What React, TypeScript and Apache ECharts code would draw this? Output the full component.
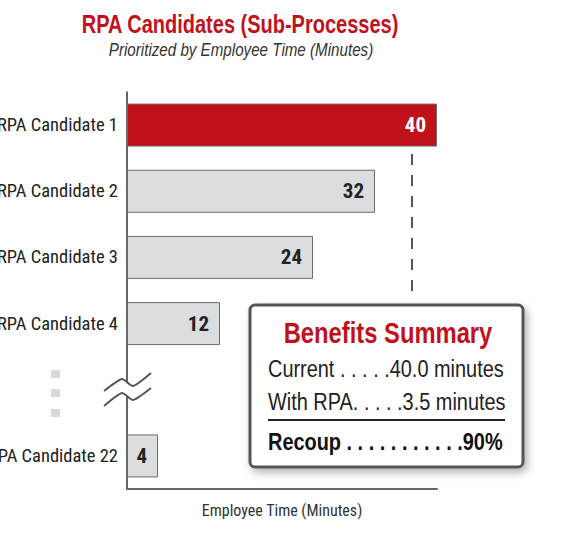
import React, { useEffect, useRef } from "react";
import * as echarts from "echarts";

const categories = [
  "RPA Candidate 1",
  "RPA Candidate 2",
  "RPA Candidate 3",
  "RPA Candidate 4",
  "",
  "RPA Candidate 22",
];
const minutes: (number | null)[] = [40, 32, 24, 12, null, 4];
const highlighted = [true, false, false, false, false, false];

const titleText = "RPA Candidates (Sub-Processes)";
const subtitleText = "Prioritized by Employee Time (Minutes)";
const axisName = "Employee Time (Minutes)";
const summaryTitle = "Benefits Summary";
const summaryLines = ["Current . . . . .40.0 minutes", "With RPA. . . . .3.5 minutes"];
const summaryTotal = "Recoup . . . . . . . . . . .90%";

const COND = "'Roboto Condensed', 'Liberation Sans Narrow', 'DejaVu Sans Condensed', sans-serif";
const SANS = "'Liberation Sans', Arial, sans-serif";
const RED = "#C1121C";
const GRAY = "#DCDDDF";
const NARROW = 0.82;

export default function App() {
  const ref = useRef<HTMLDivElement>(null);
  useEffect(() => {
    if (!ref.current) return;
    const chart = echarts.init(ref.current, null, { renderer: "svg" });
    const data = minutes.map((v, i) => ({
      value: v,
      itemStyle: { color: highlighted[i] ? RED : GRAY },
      label: { color: highlighted[i] ? "#fff" : "#222" },
    }));
    const narrowText = (
      text: string,
      x: number,
      y: number,
      size: number,
      opts: { bold?: boolean; italic?: boolean; fill?: string; align?: string; sx?: number } = {}
    ) => ({
      type: "text",
      z: 101,
      x,
      y,
      scaleX: opts.sx ?? NARROW,
      style: {
        text,
        fontFamily: SANS,
        fontSize: size,
        fontWeight: opts.bold ? "bold" : "normal",
        fontStyle: opts.italic ? "italic" : "normal",
        fill: opts.fill ?? "#222",
        align: opts.align ?? "left",
        verticalAlign: "middle",
      },
    });
    chart.setOption({
      animation: false,
      grid: { left: 127, right: 135, top: 92, bottom: 46, outerBoundsMode: "none", containLabel: false },
      xAxis: {
        type: "value",
        min: 0,
        max: 40,
        splitLine: { show: false },
        axisTick: { show: false },
        axisLabel: { show: false },
        axisLine: { show: true, lineStyle: { color: "#666", width: 2 } },
        name: axisName,
        nameLocation: "middle",
        nameGap: 13,
        nameTextStyle: { fontFamily: COND, fontSize: 16, color: "#333" },
      },
      yAxis: {
        type: "category",
        inverse: true,
        data: categories,
        axisTick: { show: false },
        axisLine: { show: true, lineStyle: { color: "#333", width: 1.5 } },
        axisLabel: { fontFamily: COND, fontSize: 18.5, color: "#222", margin: 9 },
      },
      series: [
        {
          type: "bar",
          data,
          barWidth: 43,
          itemStyle: { borderColor: "#6b6b6b", borderWidth: 1 },
          label: {
            show: true,
            position: "insideRight",
            distance: 11,
            fontFamily: COND,
            fontSize: 21,
            fontWeight: "bold",
          },
        },
      ],
      graphic: [
        narrowText(titleText, 240, 25, 25, { bold: true, fill: RED, align: "center", sx: 0.8 }),
        narrowText(subtitleText, 241, 50, 18.5, { italic: true, fill: "#333", align: "center" }),
        // connector from top bar to summary box
        {
          type: "line",
          z: 100,
          shape: { x1: 412, y1: 154, x2: 412, y2: 299 },
          style: { stroke: "#555", lineWidth: 2, lineDash: [11, 10] },
        },
        // ellipsis squares for omitted candidates
        { type: "rect", z: 100, shape: { x: 51, y: 370, width: 9, height: 8 }, style: { fill: "#d9d9d9" } },
        { type: "rect", z: 100, shape: { x: 51, y: 389, width: 9, height: 8 }, style: { fill: "#d9d9d9" } },
        { type: "rect", z: 100, shape: { x: 51, y: 409, width: 9, height: 8 }, style: { fill: "#d9d9d9" } },
        // axis break
        {
          type: "polygon",
          z: 100,
          shape: {
            points: [
              [104, 392], [122, 380], [133, 387], [151, 374],
              [151, 388], [133, 400], [122, 393], [104, 406],
            ],
          },
          style: { fill: "#fff" },
        },
        {
          type: "polyline",
          z: 101,
          shape: { points: [[104, 391], [122, 379], [133, 386], [151, 373]], smooth: 0.2 },
          style: { stroke: "#555", lineWidth: 2, fill: null },
        },
        {
          type: "polyline",
          z: 101,
          shape: { points: [[104, 406], [122, 393], [133, 400], [151, 388]], smooth: 0.2 },
          style: { stroke: "#555", lineWidth: 2, fill: null },
        },
        // summary box
        {
          type: "rect",
          z: 100,
          shape: { x: 250, y: 305, width: 273, height: 162, r: 5 },
          style: {
            fill: "#fff",
            stroke: "#555",
            lineWidth: 3,
            shadowBlur: 8,
            shadowColor: "rgba(0,0,0,0.3)",
            shadowOffsetX: 3,
            shadowOffsetY: 4,
          },
        },
        narrowText(summaryTitle, 388, 333, 29, { bold: true, fill: RED, align: "center" }),
        narrowText(summaryLines[0], 268, 369, 24, { sx: 0.83 }),
        narrowText(summaryLines[1], 268, 402, 24, { sx: 0.83 }),
        {
          type: "line",
          z: 101,
          shape: { x1: 268, y1: 420, x2: 505, y2: 420 },
          style: { stroke: "#222", lineWidth: 2 },
        },
        narrowText(summaryTotal, 268, 442, 24, { bold: true, fill: "#111", sx: 0.83 }),
      ],
    });
    return () => chart.dispose();
  }, []);
  return (
    <div
      ref={ref}
      style={{ position: "absolute", left: 0, top: 0, width: 572, height: 535 }}
    />
  );
}
